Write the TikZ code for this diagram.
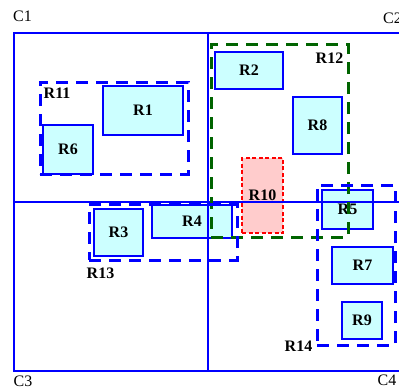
\documentclass[tikz,border=0pt]{standalone}
\usepackage{fontspec}
\setmainfont{Liberation Serif}
\usepackage{tikz}
\usetikzlibrary{positioning}
\definecolor{rblue}{HTML}{0000FF}
\definecolor{rcyan}{HTML}{CCFFFF}
\definecolor{rpink}{HTML}{FFCCCC}
\definecolor{rgreen}{HTML}{006400}

\begin{document}
\begin{tikzpicture}[
    x=1pt, y=-1pt,
    region/.style={rectangle, draw=rblue, line width=1.6pt, fill=rcyan, inner sep=0pt,
                   font=\fontsize{16}{18}\selectfont\bfseries},
    hot/.style={region, draw=red, fill=rpink, dash pattern=on 4pt off 2.5pt, line width=1.3pt},
    group/.style={rectangle, draw=rblue, line width=3pt, dash pattern=on 12pt off 8pt, inner sep=0pt},
    ggroup/.style={group, draw=rgreen},
    grplabel/.style={inner sep=0pt, font=\fontsize{16}{18}\selectfont\bfseries},
    corner/.style={inner sep=0pt, font=\fontsize{16}{18}\selectfont},
    frame/.style={draw=rblue, line width=1.5pt},
]
    \useasboundingbox (0,0) rectangle (399,389);

    % regions
    \node[region, minimum width=80pt, minimum height=49pt] (r1) at (143,110.5) {R1};
    \node[region, minimum width=68pt, minimum height=37pt] (r2) at (249,70.5) {R2};
    \node[region, minimum width=49pt, minimum height=47pt] (r3) at (118.5,232.5) {R3};
    \node[region, minimum width=80pt, minimum height=33pt] (r4) at (192,221.5) {R4};
    \node[region, minimum width=51pt, minimum height=39pt] (r5) at (347.5,209.5) {R5};
    \node[region, minimum width=50pt, minimum height=49pt] (r6) at (68,149.5) {R6};
    \node[region, minimum width=61pt, minimum height=37pt] (r7) at (362.5,265.5) {R7};
    \node[region, minimum width=49pt, minimum height=57pt] (r8) at (317.5,125.5) {R8};
    \node[region, minimum width=40pt, minimum height=37pt] (r9) at (362,320.5) {R9};
    \node[hot, minimum width=41pt, minimum height=75pt] (r10) at (262.5,195.5) {R10};

    % frame and quadrant lines
    \draw[frame] (14,33) rectangle (430,371);
    \draw[frame] (208,33) -- (208,371);
    \draw[frame] (14,202) -- (430,202);

    % groups
    \node[group, minimum width=148pt, minimum height=92pt] (r11) at (114,128) {};
    \node[ggroup, minimum width=137pt, minimum height=193pt] (r12) at (279.5,140.5) {};
    \node[group, minimum width=148pt, minimum height=56pt] (r13) at (163,232) {};
    \node[group, minimum width=78pt, minimum height=160pt] (r14) at (356,265) {};

    \node[grplabel, below right=7pt and 5pt of r11.north west] (l11) {R11};
    \node[grplabel, below left=10pt and 6pt of r12.north east] (l12) {R12};
    \node[grplabel, below right=6pt and -1pt of r13.south west] (l13) {R13};
    \node[grplabel, left=3pt of r14.south west] (l14) {R14};

    % corners
    \node[corner] (c1) at (22.5,16) {C1};
    \node[corner, anchor=west] (c2) at (383,18) {C2};
    \node[corner] (c3) at (23,381) {C3};
    \node[corner] (c4) at (387,380) {C4};
\end{tikzpicture}
\end{document}
